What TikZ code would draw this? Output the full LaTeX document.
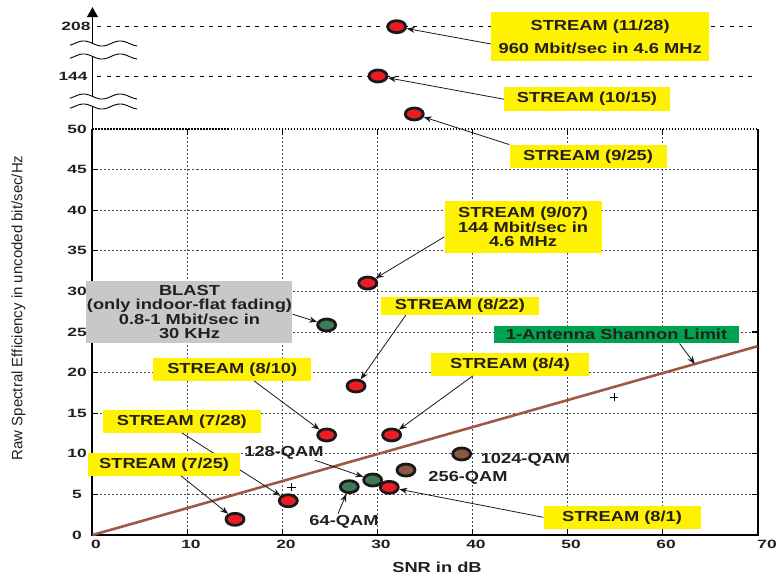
\documentclass[tikz,border=0pt]{standalone}
\usepackage{fontspec}
\setmainfont{Liberation Sans}
\newfontfamily\boxfont{Liberation Sans}[FakeStretch=1.26]
\newfontfamily\tickfont{Liberation Sans}[FakeStretch=1.45]
\usetikzlibrary{shapes.geometric, arrows.meta}

\definecolor{yboxc}{RGB}{255,242,0}
\definecolor{gboxc}{RGB}{200,200,202}
\definecolor{sboxc}{RGB}{0,163,80}
\definecolor{redc}{RGB}{237,28,36}
\definecolor{greenc}{RGB}{62,122,86}
\definecolor{brownc}{RGB}{140,88,66}
\definecolor{limitc}{RGB}{158,88,68}
\definecolor{txtc}{RGB}{35,31,32}

\newcommand{\boxtxt}{\boxfont\bfseries\fontsize{14.5}{14.5}\selectfont}
\newcommand{\ticktxt}{\tickfont\bfseries\fontsize{12}{12}\selectfont}

\begin{document}
\begin{tikzpicture}[x=9.5pt, y=8.12pt,
    gridline/.style={black!70, line width=0.7pt, dash pattern=on 2pt off 2pt},
    axisline/.style={black, line width=2pt},
    topline/.style={black, line width=2pt, dash pattern=on 1.6pt off 1.4pt},
    thinaxis/.style={black, line width=1.2pt},
    upline/.style={black, line width=0.9pt, dash pattern=on 4pt off 5.3pt},
    brk/.style={black, line width=0.9pt},
    limitline/.style={limitc, line width=2.6pt},
    datapt/.style={ellipse, draw=black!90, line width=2.8pt,
      minimum width=18pt, minimum height=12pt, inner sep=0pt},
    ptred/.style={datapt, fill=redc},
    ptgreen/.style={datapt, fill=greenc},
    ptbrown/.style={datapt, fill=brownc},
    ybox/.style={fill=yboxc, text=txtc, font=\boxtxt, align=center,
      inner sep=0pt},
    qamlbl/.style={text=txtc, font=\boxtxt, inner sep=1pt},
    ticklbl/.style={text=txtc, font=\ticktxt, inner sep=0pt},
    ptr/.style={-{Stealth[length=8pt, width=6pt]}, line width=0.8pt, black!90},
  ]

    \useasboundingbox (-9.7368,-5.7882) rectangle (72.0526,65.8867);

    % grid and frame
    \foreach \x in {10,20,...,60}
      \draw[gridline] (\x,0) -- (\x,50);
    \foreach \y in {5,10,...,45}
      \draw[gridline] (0,\y) -- (70,\y);
    \foreach \y in {5,10,...,45}
      \draw[thinaxis] (0,\y) -- (0.55,\y) (70,\y) -- (69.45,\y);
    \foreach \x in {10,20,...,60}
      \draw[thinaxis] (\x,0) -- (\x,0.7) (\x,50) -- (\x,49.3);

    \draw[axisline] (0,50) -- (0,0) -- (70,0) -- (70,50);
    \draw[topline] (0,50) -- (70,50);

    % broken axis above 50
    \draw[thinaxis, -{Triangle[length=10pt, width=11pt]}] (0,60.53) -- (0,65.0);
    \draw[thinaxis] (0,58.93) -- (0,54.0);
    \draw[thinaxis] (0,52.77) -- (0,50);
    \foreach \b in {60.53,58.93,54.0,52.77}
      \draw[brk] plot[domain=-44:615, samples=50] ({-1.9+0.0107*\x}, {\b+0.31*sin(\x)});

    \draw[upline] (0.5,62.68) -- (70,62.68);
    \draw[upline] (0.5,56.44) -- (70,56.44);

    % shannon limit
    \draw[limitline] (0,0) -- (70,23.25);
    \coordinate (plimit) at (63.4,21.06);

    \foreach \cx/\cy in {20.97/5.87, 54.9/16.96}
      \draw[black, line width=0.7pt] (\cx-0.45,\cy) -- (\cx+0.45,\cy)
        (\cx,\cy-0.5) -- (\cx,\cy+0.5);

    % measured points
    \node[ptred] (m1128) at (32.02,62.60) {};
    \node[ptred] (m1015) at (30.05,56.53) {};
    \node[ptred] (m925) at (33.87,51.85) {};
    \node[ptred] (m907) at (28.97,31.03) {};
    \node[ptred] (m822) at (27.74,18.35) {};
    \node[ptgreen] (mblast) at (24.65,25.86) {};
    \node[ptred] (m810) at (24.65,12.32) {};
    \node[ptred] (m84) at (31.49,12.32) {};
    \node[ptbrown] (m1024) at (38.86,9.98) {};
    \node[ptbrown] (m256) at (33.0,8.0) {};
    \node[ptgreen] (m128) at (29.49,6.77) {};
    \node[ptgreen] (m64) at (27.03,5.95) {};
    \node[ptred] (m81) at (31.24,5.87) {};
    \node[ptred] (m728) at (20.61,4.22) {};
    \node[ptred] (m725) at (15.0,1.93) {};

    % labels
    \node[ybox, minimum width=218pt, minimum height=49pt] (b1128)
      at (53.44,61.33) {STREAM (11/28)\\[8.5pt]960 Mbit/sec in 4.6 MHz};
    \draw[ptr] ([yshift=-7pt]b1128.west) -- (m1128);

    \node[ybox, minimum width=166pt, minimum height=24pt] (b1015)
      at (52.05,53.67) {STREAM (10/15)};
    \draw[ptr] (b1015.west) -- (m1015);

    \node[ybox, minimum width=157pt, minimum height=23pt] (b925)
      at (52.16,46.64) {STREAM (9/25)};
    \draw[ptr] (b925.north west) -- (m925);

    \node[ybox, minimum width=157pt, minimum height=52pt] (b907)
      at (45.32,37.95) {STREAM (9/07)\\144 Mbit/sec in\\4.6 MHz};
    \draw[ptr] ([yshift=-10pt]b907.west) -- (m907);

    \node[ybox, minimum width=158pt, minimum height=18.5pt] (b822)
      at (38.68,28.23) {STREAM (8/22)};
    \draw[ptr] ([xshift=25pt]b822.south west) -- (m822);

    \node[ybox, fill=gboxc, minimum width=206pt, minimum height=62pt] (blast)
      at (10.21,27.44) {BLAST\\(only indoor-flat fading)\\0.8-1 Mbit/sec in\\30 KHz};
    \draw[ptr] ([yshift=-2pt]blast.east) -- (mblast);

    \node[ybox, fill=sboxc, minimum width=245pt, minimum height=17.6pt] (blimit)
      at (55.16,24.69) {1-Antenna Shannon Limit};
    \draw[ptr] ([xshift=63pt]blimit.south) -- (plimit);

    \node[ybox, minimum width=158pt, minimum height=22.4pt] (b810)
      at (14.71,20.38) {STREAM (8/10)};
    \draw[ptr] ([xshift=101pt]b810.south west) -- (m810);

    \node[ybox, minimum width=158pt, minimum height=22.4pt] (b84)
      at (43.95,21.0) {STREAM (8/4)};
    \draw[ptr] ([xshift=42pt]b84.south west) -- (m84);

    \node[ybox, minimum width=158pt, minimum height=22.7pt] (b728)
      at (9.40,14.0) {STREAM (7/28)};
    \draw[ptr] (b728.south) -- (m728);

    \node[ybox, minimum width=152pt, minimum height=22.4pt] (b725)
      at (7.54,8.68) {STREAM (7/25)};
    \draw[ptr] ([xshift=17pt]b725.south) -- (m725);

    \node[ybox, minimum width=157pt, minimum height=22.7pt] (b81)
      at (55.74,2.18) {STREAM (8/1)};
    \draw[ptr] (b81.west) -- (m81);

    \node[qamlbl] (q128) at (20.16,10.16) {128-QAM};
    \draw[ptr] ([xshift=-10pt]q128.south east) -- (m128);
    \node[qamlbl] (q64) at (26.47,1.66) {64-QAM};
    \draw[ptr] ([xshift=-6pt]q64.north) -- (m64);
    \node[qamlbl] (q256) at (39.53,7.02) {256-QAM};
    \node[qamlbl] (q1024) at (45.58,9.30) {1024-QAM};

    % axes text
    \foreach \y in {0,5,...,50}
      \node[ticklbl] (yl\y) at (-1.63,\y) {\y};
    \node[ticklbl] (yl144) at (-2.05,56.44) {144};
    \node[ticklbl] (yl208) at (-1.74,62.68) {208};
    \foreach \x in {0,10,...,60}
      \node[ticklbl] (xl\x) at ([xshift=3.5pt]\x,-1.1) {\x};
    \node[ticklbl] (xl70) at (71,-1.1) {70};

    \node[qamlbl] (xlab) at (36.26,-3.94) {SNR in dB};
    \node[rotate=90, text=txtc, font=\fontsize{15}{15}\selectfont] (ylab)
      at (-7.79,27.96) {Raw Spectral Efficiency in uncoded bit/sec/Hz};

\end{tikzpicture}
\end{document}
